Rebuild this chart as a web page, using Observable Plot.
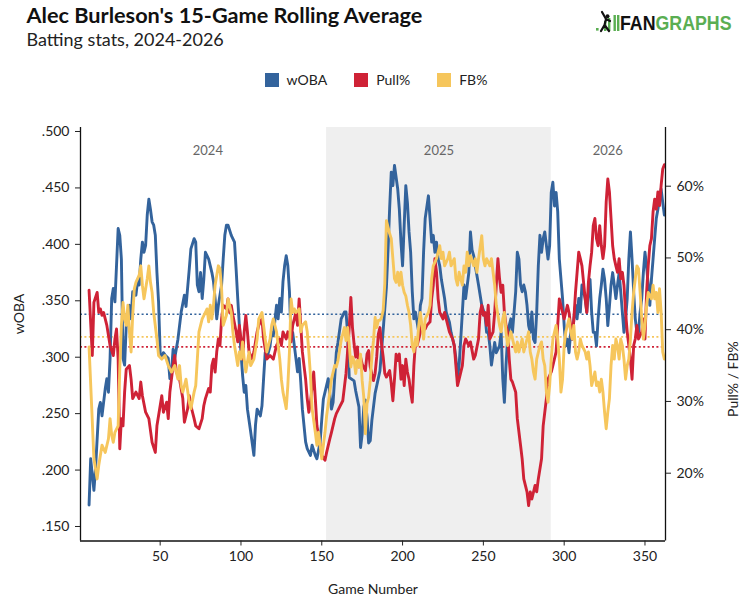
<!DOCTYPE html>
<html><head><meta charset="utf-8">
<script src="https://cdn.jsdelivr.net/npm/d3@7"></script>
<script src="https://cdn.jsdelivr.net/npm/@observablehq/plot@0.6"></script>
<style>
html,body{margin:0;padding:0;background:#fff;}
#wrap{position:relative;width:752px;height:615px;font-family:Lato,"Open Sans",sans-serif;overflow:hidden;background:#fff}
#head{position:absolute;left:0;top:0}
#legend{position:absolute;top:72px;left:0;width:752px;display:flex;justify-content:center;gap:27px;font-size:14px;color:#222;line-height:16px}
.item{display:flex;align-items:center}
.sw{width:14px;height:14px;margin-right:8px}
#chart{position:absolute;left:0;top:100px}
</style></head>
<body><div id="wrap"><svg id="head" width="752" height="70"></svg><div id="legend"></div><div id="chart"></div></div>
<script>
// ---- series names / colours ----
const seriesNames = ["wOBA", "Pull%", "FB%"];
const seriesColors = ["#33639c", "#cf2236", "#f6c65c"];

// ---- wOBA (15-game rolling) ----
const wobaGame = [6,7,9,10,12,13,14,16,17,18,19,20,21,22,24,25,26,27,28,29,30,31,32,33,35,36,37,38,39,40,41,42,43,44,45,46,47,48,49,50,51,52,53,55,56,57,58,59,61,63,65,66,68,69,71,72,73,74,75,76,77,78,80,81,82,83,84,85,86,88,89,90,91,92,94,96,97,98,99,100,101,102,103,104,106,108,109,110,112,113,114,115,116,118,119,120,122,123,124,125,126,127,128,129,130,131,132,134,135,136,137,138,140,141,143,144,146,147,149,150,151,153,154,156,157,159,160,162,164,165,166,167,170,171,173,174,175,176,177,178,179,180,181,183,186,187,188,190,191,192,193,194,195,197,198,199,200,201,202,203,204,205,206,207,208,210,211,212,213,214,216,217,218,219,220,221,222,223,224,226,227,229,230,232,233,234,235,236,237,238,239,241,242,243,244,245,247,249,251,252,253,254,255,257,258,260,261,262,263,264,265,266,267,268,269,270,271,272,273,274,275,276,277,278,279,280,281,282,283,284,285,286,287,288,290,291,292,293,294,295,296,297,299,300,301,302,303,304,305,306,307,308,309,310,311,312,313,314,315,316,317,318,319,320,321,322,323,324,325,326,327,328,329,330,331,332,333,334,335,336,337,338,339,340,341,342,343,344,345,346,347,348,349,350,351,352,353,354,355,356,357,358,359,360,361,362];
const wobaValue = [.169,.210,.182,.201,.254,.260,.248,.272,.281,.269,.299,.352,.361,.349,.414,.408,.387,.299,.293,.328,.340,.346,.334,.358,.355,.367,.364,.387,.402,.393,.399,.426,.440,.431,.420,.417,.408,.375,.349,.304,.299,.304,.302,.299,.281,.287,.307,.299,.316,.340,.355,.345,.378,.396,.405,.402,.364,.358,.375,.352,.369,.393,.387,.381,.375,.367,.352,.334,.346,.364,.387,.408,.417,.417,.408,.402,.378,.352,.328,.304,.284,.269,.275,.254,.234,.213,.240,.254,.248,.257,.281,.304,.299,.310,.322,.319,.346,.334,.352,.340,.367,.381,.390,.381,.358,.316,.322,.299,.287,.299,.278,.254,.225,.219,.213,.222,.213,.210,.225,.245,.263,.275,.281,.254,.260,.304,.313,.334,.340,.340,.321,.282,.279,.270,.256,.220,.232,.256,.262,.247,.224,.226,.244,.268,.288,.306,.324,.362,.395,.432,.464,.452,.470,.449,.431,.402,.381,.417,.452,.437,.411,.393,.358,.334,.340,.322,.346,.352,.393,.423,.443,.423,.402,.408,.393,.402,.387,.381,.369,.352,.340,.331,.322,.310,.299,.281,.293,.316,.340,.364,.352,.375,.411,.395,.390,.381,.364,.346,.337,.322,.322,.310,.293,.313,.304,.310,.322,.281,.260,.293,.316,.328,.334,.322,.340,.358,.393,.387,.364,.358,.364,.358,.346,.328,.322,.340,.316,.313,.340,.381,.408,.393,.405,.411,.387,.399,.446,.455,.434,.446,.429,.387,.352,.328,.310,.316,.304,.322,.316,.334,.346,.334,.352,.340,.364,.358,.352,.340,.358,.369,.340,.322,.322,.310,.334,.352,.364,.378,.369,.352,.328,.345,.364,.375,.364,.352,.364,.375,.358,.340,.322,.334,.352,.387,.411,.387,.358,.334,.322,.322,.340,.352,.375,.393,.381,.364,.346,.369,.387,.405,.423,.431,.440,.449,.437,.426];

// ---- Pull% (15-game rolling, percent) ----
const pullGame = [6,8,9,11,12,13,14,15,17,19,21,22,23,24,25,26,27,28,29,31,32,33,35,37,38,39,41,43,45,47,48,49,51,52,54,55,56,58,59,60,62,64,65,67,68,69,71,72,74,76,77,78,80,81,82,83,84,85,86,87,88,89,91,92,93,94,95,97,98,99,100,101,102,103,104,105,107,108,110,111,113,114,116,118,120,122,124,125,126,128,129,131,132,134,135,136,137,138,139,140,141,142,143,145,146,147,149,150,152,153,155,156,158,159,161,163,164,165,166,167,168,169,170,171,172,173,174,175,177,178,179,180,182,183,184,185,186,187,188,189,190,192,193,194,195,196,197,198,199,200,201,202,203,204,205,206,207,208,209,210,211,212,214,215,217,218,219,220,221,222,223,225,226,228,229,231,232,233,234,235,237,238,239,241,242,244,245,247,248,249,250,251,252,253,254,256,257,258,259,260,261,262,263,264,265,266,267,268,270,271,273,274,275,277,278,279,280,282,283,284,286,287,289,290,292,293,295,296,297,299,300,302,303,304,305,306,307,308,309,310,311,313,314,315,316,317,318,319,320,321,322,323,324,325,326,327,328,329,330,331,332,333,334,335,336,337,338,339,341,342,343,344,345,346,348,349,350,351,352,353,354,355,356,357,358,359,360,361,362];
const pullValue = [45.5,36.4,43.8,45.2,42.4,42.9,42.0,42.4,40.6,37.8,36.4,38.7,40.1,35.9,23.4,27.6,26.6,31.3,34.5,35.0,33.1,30.4,31.3,30.4,32.7,30.8,28.5,27.6,24.3,22.9,26.6,28.0,30.8,28.5,29.9,27.6,31.3,35.0,36.4,34.1,33.1,30.4,27.1,29.0,30.8,29.4,27.6,26.6,26.2,27.6,29.4,30.4,31.8,31.3,35.0,35.9,34.1,36.9,38.7,37.8,41.5,43.4,42.9,44.3,42.4,43.4,42.0,39.7,38.3,40.6,38.7,35.9,39.7,42.0,39.7,36.9,35.9,36.9,39.7,40.6,41.5,38.7,35.9,36.4,35.9,37.8,38.7,37.8,39.7,38.7,39.7,38.3,40.6,42.4,40.6,44.3,40.6,36.9,35.0,33.1,30.4,28.5,29.9,34.1,30.4,26.6,23.9,22.5,21.8,22.9,24.8,25.7,27.6,28.3,29.2,30.1,32.0,33.9,37.1,40.3,44.5,40.3,38.0,36.2,37.6,34.8,36.2,35.2,34.3,36.6,37.1,34.8,32.9,33.9,36.2,39.4,40.3,38.0,36.2,33.9,33.4,34.3,32.5,30.1,33.1,36.6,35.7,36.6,33.1,35.0,32.2,35.9,34.1,33.1,31.3,29.9,35.0,38.3,37.8,38.7,39.7,40.6,40.1,40.6,41.1,44.3,46.2,49.9,48.0,44.3,42.4,41.5,42.4,40.6,39.7,38.7,37.8,35.0,32.2,33.1,35.0,37.8,38.7,37.8,38.3,35.9,36.4,38.7,42.4,43.4,42.0,42.4,40.6,43.4,38.7,39.7,42.4,46.2,49.9,47.1,45.2,46.2,42.4,40.6,39.7,35.9,33.1,32.7,31.3,27.6,23.9,22.0,19.2,17.4,15.5,17.4,16.4,18.3,17.4,19.2,22.0,26.6,30.4,33.1,34.1,35.0,36.9,40.6,44.3,42.4,41.5,43.4,42.4,40.6,38.7,41.5,45.2,48.0,50.8,49.9,48.9,44.3,42.4,46.6,48.9,50.8,54.5,55.5,52.7,51.7,54.5,51.7,49.9,51.7,57.8,61.0,59.2,55.5,51.7,49.9,48.9,48.0,49.9,47.1,48.0,46.2,42.4,39.7,35.9,33.1,37.8,38.7,40.6,38.7,39.7,41.5,38.7,45.2,48.9,51.7,52.7,56.4,58.2,56.8,59.2,57.3,60.1,62.4,63.0];

// ---- FB% (15-game rolling, percent) ----
const fbGame = [6,9,11,12,14,16,18,19,20,21,22,24,25,26,27,28,29,30,31,32,33,34,35,37,38,39,40,42,43,44,45,46,48,49,51,53,55,57,59,61,62,63,64,66,68,69,71,72,73,74,75,76,78,79,80,81,82,83,84,86,87,88,89,91,92,94,95,96,98,99,100,101,102,103,105,106,108,110,111,113,114,115,116,118,119,120,122,124,125,126,128,129,130,131,132,133,134,136,137,138,140,141,142,143,144,146,147,148,150,151,152,153,155,156,158,159,160,162,163,164,165,166,167,168,169,170,171,172,173,174,175,176,177,178,179,180,181,182,183,184,185,186,187,188,189,190,191,192,193,194,195,196,197,198,199,200,201,202,203,204,205,206,207,208,209,210,211,212,213,214,216,217,218,219,221,222,223,224,225,226,228,229,230,232,233,234,235,237,238,239,240,241,242,244,245,246,247,249,250,251,252,254,255,256,257,258,260,261,262,263,264,265,266,267,269,270,271,272,273,274,275,277,278,279,280,281,282,283,285,286,287,288,289,290,291,292,293,295,296,297,298,299,300,301,303,304,305,306,307,308,309,310,311,313,314,315,316,317,318,319,320,321,322,323,324,325,326,327,328,329,330,331,332,333,334,335,336,337,338,339,340,341,342,343,344,345,346,347,348,349,350,351,352,354,355,356,357,358,359,360,361,362];
const fbValue = [37.6,22.0,19.2,21.1,23.9,22.9,24.8,27.6,25.3,24.3,25.7,26.6,34.5,40.6,43.8,41.5,40.6,43.4,39.7,36.9,42.0,45.7,46.6,47.6,48.9,46.2,44.3,47.1,48.9,46.6,45.2,42.4,38.7,36.4,35.9,36.4,35.0,34.1,35.0,33.1,35.0,32.2,31.3,33.1,29.9,29.0,31.3,32.2,35.9,39.7,40.6,41.5,42.4,42.9,41.1,43.4,41.5,43.4,46.2,48.9,48.5,45.7,40.6,42.0,44.3,42.4,39.7,37.8,35.0,36.9,35.9,38.3,35.9,34.1,36.9,35.0,35.9,38.7,41.5,42.4,40.6,38.7,36.9,38.7,40.6,41.5,39.7,35.9,33.1,31.3,29.0,32.2,36.9,44.3,42.4,42.9,42.4,42.9,39.7,40.6,41.1,39.7,36.9,33.6,29.0,25.7,23.9,25.7,22.0,23.9,25.7,28.0,31.3,33.1,35.0,34.8,35.7,38.5,39.4,40.3,38.5,40.3,38.0,34.8,36.2,35.7,33.9,35.7,34.8,36.6,32.9,30.6,25.5,29.7,30.6,32.9,36.2,38.5,41.7,40.3,41.3,41.3,41.7,42.7,46.4,55.2,54.3,53.4,52.7,49.9,47.1,46.6,48.0,46.2,48.0,46.2,45.2,44.7,43.4,42.4,40.6,37.8,36.9,38.7,37.8,40.6,42.4,40.6,38.7,41.5,42.4,43.4,47.1,48.9,49.9,50.8,51.7,49.9,50.8,48.9,49.9,50.8,48.9,49.9,47.1,46.2,48.0,46.2,48.9,48.0,50.8,48.9,50.3,48.9,49.9,48.0,49.9,53.1,49.9,48.9,49.9,48.9,49.9,48.0,46.2,43.4,40.6,39.7,41.5,42.4,39.7,37.8,38.7,39.7,37.8,36.9,38.3,36.9,37.8,38.7,36.9,38.7,39.7,36.9,35.9,34.1,33.1,35.9,37.8,38.3,35.9,35.0,31.3,29.9,32.2,35.9,38.7,40.6,38.7,35.9,31.3,33.1,37.8,39.7,41.5,39.7,38.7,40.6,36.9,35.9,36.9,38.7,37.8,36.9,35.9,36.9,35.0,32.2,33.1,34.1,32.2,32.7,31.3,33.1,31.3,28.5,26.2,28.5,30.4,35.0,37.8,35.9,38.7,37.8,35.9,38.7,37.8,35.9,33.1,35.0,35.9,38.7,42.4,45.2,47.1,48.9,48.5,45.2,41.5,38.7,40.6,43.4,45.2,44.3,46.2,44.3,45.2,42.4,45.7,42.4,36.9,35.9];

// ---- career averages (dotted reference lines) ----
const avgNames = ["wOBA", "Pull%", "FB%"];
const avgValues = [0.338, 37.6, 39.0];

// ---- seasons ----
const seasonNames = ["2024", "2025", "2026"];
const seasonStart = [6, 153, 292];
const seasonEnd = [153, 292, 362];
const shadedSeason = "2025";

// ---- axis ticks ----
const wobaTicks = [0.15, 0.20, 0.25, 0.30, 0.35, 0.40, 0.45, 0.50];
const pctTicks = [20, 30, 40, 50, 60];
const gameTicks = [50, 100, 150, 200, 250, 300, 350];

// ---- scale setup: left axis wOBA, right axis percent mapped onto it ----
const X_DOMAIN = [0.7, 362.7];
const Y_DOMAIN = [0.13715, 0.50354];
const P_DOMAIN = [10.55, 68.18];
const pctToY = p => Y_DOMAIN[0] + (p - P_DOMAIN[0]) / (P_DOMAIN[1] - P_DOMAIN[0]) * (Y_DOMAIN[1] - Y_DOMAIN[0]);
const yToPct = y => P_DOMAIN[0] + (y - Y_DOMAIN[0]) / (Y_DOMAIN[1] - Y_DOMAIN[0]) * (P_DOMAIN[1] - P_DOMAIN[0]);

const rows = (games, values, conv) => games.map((g, i) => ({game: g, y: conv(values[i])}));
const wobaRows = rows(wobaGame, wobaValue, v => v);
const pullRows = rows(pullGame, pullValue, pctToY);
const fbRows = rows(fbGame, fbValue, pctToY);
const avgRows = avgNames.map((n, i) => ({name: n, y: i === 0 ? avgValues[i] : pctToY(avgValues[i]), color: seriesColors[i]}));
const seasons = seasonNames.map((n, i) => ({name: n, start: seasonStart[i], end: seasonEnd[i], mid: (seasonStart[i] + seasonEnd[i]) / 2}));

// ---- header ----
const head = d3.select("#head");
head.append("text").attr("x", 26.5).attr("y", 22.7).attr("font-family", "Lato").attr("font-weight", 700)
  .attr("font-size", 21.7).attr("fill", "#111").text("Alec Burleson's 15-Game Rolling Average");
head.append("text").attr("x", 26.5).attr("y", 46).attr("font-family", "Lato")
  .attr("font-size", 18).attr("fill", "#222").text("Batting stats, 2024-2026");
// FanGraphs wordmark
const logo = head.append("g");
logo.append("rect").attr("x", 596).attr("y", 28).attr("width", 2.6).attr("height", 2.6).attr("fill", "#5aae52");
[[604, 21, 10], [608, 18, 13], [613.5, 15, 16], [617, 15, 16]].forEach(([x, y, h]) =>
  logo.append("rect").attr("x", x).attr("y", y).attr("width", 2.4).attr("height", h).attr("fill", "#5aae52"));
logo.append("path").attr("d", "M602 12 L606 19 M606 19 L604.5 25 L601 31 M604.5 25 L609 31 M606 19 L610 21")
  .attr("stroke", "#111").attr("stroke-width", 2.2).attr("fill", "none").attr("stroke-linecap", "round");
logo.append("circle").attr("cx", 607.5).attr("cy", 16.3).attr("r", 2).attr("fill", "#111");
const word = logo.append("text").attr("x", 620).attr("y", 30).attr("font-family", "Liberation Sans, Arial, sans-serif")
  .attr("font-weight", 700).attr("font-size", 19.5)
  .attr("textLength", 111.5).attr("lengthAdjust", "spacingAndGlyphs");
word.append("tspan").attr("fill", "#111").text("FAN");
word.append("tspan").attr("fill", "#5aae52").text("GRAPHS");

// ---- legend ----
const legend = d3.select("#legend");
seriesNames.forEach((n, i) => {
  const it = legend.append("div").attr("class", "item");
  it.append("div").attr("class", "sw").style("background", seriesColors[i]);
  it.append("span").text(n);
});

// ---- chart ----
const chart = Plot.plot({
  width: 752,
  height: 515,
  marginTop: 27,
  marginBottom: 74.5,
  marginLeft: 80,
  marginRight: 87,
  style: {fontFamily: "Lato", fontSize: "14px", color: "#222", background: "transparent", overflow: "visible"},
  x: {domain: X_DOMAIN, label: null},
  y: {domain: Y_DOMAIN, label: null},
  marks: [
    Plot.rect(seasons.filter(d => d.name === shadedSeason), {x1: "start", x2: "end", fill: "#efefef"}),
    Plot.text(seasons, {x: "mid", text: "name", frameAnchor: "top", dy: 18, fill: "#666", fontSize: 13}),
    Plot.ruleY(avgRows, {y: "y", stroke: "color", strokeDasharray: "2,2.4", strokeWidth: 1.6}),
    Plot.line(wobaRows, {x: "game", y: "y", stroke: seriesColors[0], strokeWidth: 2.9, strokeLinejoin: "round"}),
    Plot.line(pullRows, {x: "game", y: "y", stroke: seriesColors[1], strokeWidth: 2.9, strokeLinejoin: "round"}),
    Plot.line(fbRows, {x: "game", y: "y", stroke: seriesColors[2], strokeWidth: 2.9, strokeLinejoin: "round"}),
    Plot.ruleX(X_DOMAIN, {stroke: "#111", strokeWidth: 1.3}),
    Plot.ruleY([Y_DOMAIN[0]], {stroke: "#111", strokeWidth: 1.3}),
    Plot.axisY({anchor: "left", ticks: wobaTicks, tickFormat: d => d3.format(".3f")(d).replace(/^0/, ""), tickSize: 5, tickPadding: 6, label: null}),
    Plot.axisY({anchor: "right", ticks: pctTicks.map(pctToY), tickFormat: y => Math.round(yToPct(y)) + "%", tickSize: 5, tickPadding: 6, label: null}),
    Plot.axisX({ticks: gameTicks, tickSize: 5, tickPadding: 5, label: null}),
    Plot.text(["wOBA"], {text: d => d, frameAnchor: "left", dx: -61, rotate: -90, fontSize: 14, fill: "#222"}),
    Plot.text(["Pull% / FB%"], {text: d => d, frameAnchor: "right", dx: 68.5, dy: 7, rotate: -90, fontSize: 14, fill: "#222"}),
    Plot.text(["Game Number"], {text: d => d, frameAnchor: "bottom", dy: 53, fontSize: 14, fill: "#222"})
  ]
});
document.getElementById("chart").appendChild(chart);
</script>
</body></html>
